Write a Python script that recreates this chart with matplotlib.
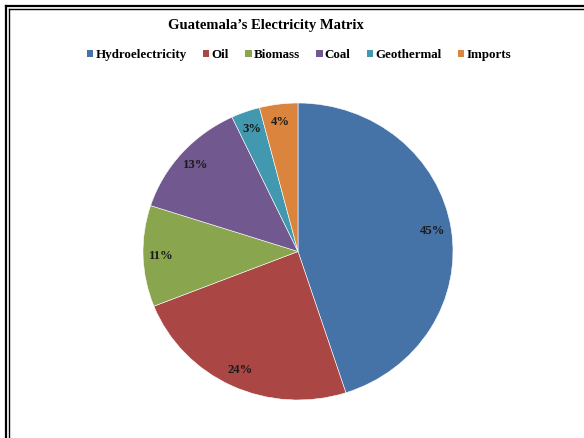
import matplotlib
matplotlib.use("Agg")
import matplotlib.pyplot as plt
from matplotlib.lines import Line2D
from matplotlib.patches import Patch

sources = ["Hydroelectricity", "Oil", "Biomass", "Coal", "Geothermal", "Imports"]
shares = [45, 24, 11, 13, 3, 4]
colors = ["#4572A7", "#AA4643", "#89A54E", "#71588F", "#4198AF", "#DB843D"]

plt.rcParams["font.family"] = ["Liberation Serif", "DejaVu Serif"]

W, H = 584, 438
fig = plt.figure(figsize=(W / 100, H / 100), dpi=100)

# pie area (a bit wider than tall, like the original)
ax = fig.add_axes([143 / W, (H - 400) / H, 310 / W, 297 / H])
wedges, texts, autotexts = ax.pie(
    shares, colors=colors, startangle=90, counterclock=False,
    autopct=lambda p: f"{p:.0f}%", pctdistance=0.88,
    wedgeprops=dict(linewidth=0.4, edgecolor="white"),
    textprops=dict(fontsize=9.2, fontweight="bold", color="#1a1a1a"))
ax.set_aspect("auto")
ax.set_xlim(-1, 1)
ax.set_ylim(-1, 1)

fig.text(266 / W, 1 - 25 / H, "Guatemala\u2019s Electricity Matrix",
         ha="center", va="center", fontsize=10.5, fontweight="bold")

handles = [Patch(facecolor=c, edgecolor="none") for c in colors]
fig.legend(handles, sources, loc="center", bbox_to_anchor=(299 / W, 1 - 55 / H),
           ncol=6, frameon=False, handlelength=0.5, handleheight=0.5,
           handletextpad=0.15, columnspacing=1.25,
           prop=dict(family="Liberation Serif", size=9.4, weight="bold"))

# double frame of the document box
for off, lw in [(5.5, 1.6), (8.5, 1.0)]:
    fig.add_artist(Line2D([off / W, off / W], [0, 1 - off / H], color="black", lw=lw))
    fig.add_artist(Line2D([off / W, 1], [1 - off / H, 1 - off / H], color="black", lw=lw))

fig.savefig("out.png", dpi=100)
